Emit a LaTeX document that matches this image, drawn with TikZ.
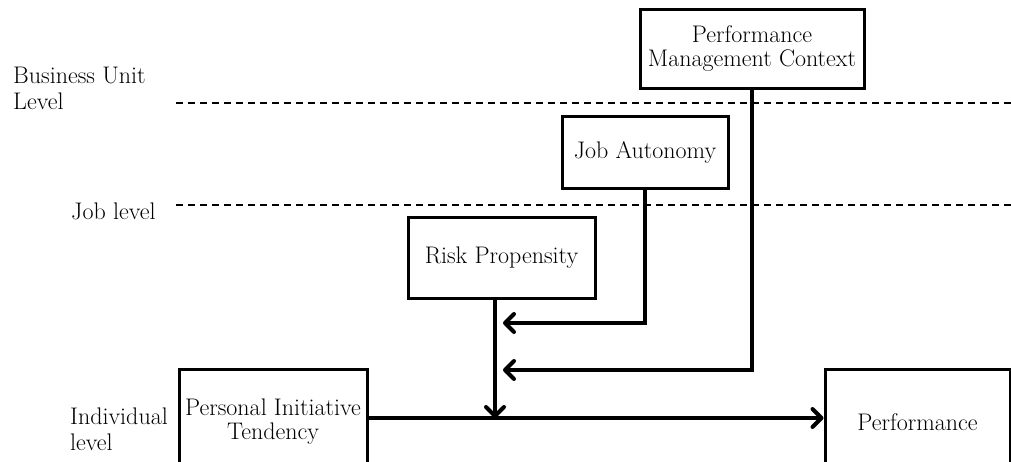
\documentclass[tikz,border=0pt]{standalone}
\usepackage{fontspec}
\usetikzlibrary{arrows.meta}
\begin{document}
\begin{tikzpicture}[x=1pt,y=-1pt,
  box/.style={draw, line width=3pt, inner sep=0pt, align=center,
    font=\fontsize{24}{24}\selectfont},
  lvl/.style={inner sep=0pt, align=left, anchor=base west,
    font=\fontsize{24}{26}\selectfont},
  conn/.style={line width=4pt, -{Straight Barb[length=9pt,width=18pt,round]}},
  levelline/.style={line width=2pt, dash pattern=on 7pt off 5pt}
]
\useasboundingbox (0,0) rectangle (1011,461);
\clip (0,0) rectangle (1011,461);

% level labels
\node[lvl] (bul) at (13,109) {Business Unit\\Level};
\node[lvl] (jl) at (71,219) {Job level};
\node[lvl] (il) at (70,450) {Individual\\level};

% level separators
\coordinate (d1a) at (176,103);
\coordinate (d1b) at (1011,103);
\coordinate (d2a) at (176,205);
\coordinate (d2b) at (1011,205);
\draw[levelline] (d1a) -- (d1b);
\draw[levelline] (d2a) -- (d2b);

% boxes
\node[box, minimum width=224pt, minimum height=79pt] (pmc) at (752,48.5) {Performance\\Management Context};
\node[box, minimum width=166pt, minimum height=72pt] (ja) at (645,152) {Job Autonomy};
\node[box, minimum width=187pt, minimum height=81pt] (rp) at (501.5,257.5) {Risk Propensity};
\node[box, minimum width=188pt, minimum height=106pt] (pi) at (273,422) {Personal Initiative\\Tendency};
\node[box, minimum width=185pt, minimum height=106pt] (perf) at (917.5,422) {Performance};

% connectors
\coordinate (mid) at (495,418);
\coordinate (cja) at (503,323);
\coordinate (cpmc) at (503,370);
\draw[conn] ([xshift=-6.5pt]rp.south) -- (mid);
\draw[conn] (pi.east |- mid) -- (perf.west |- mid);
\draw[conn] (ja.south) |- (cja);
\draw[conn] (pmc.south) |- (cpmc);
\end{tikzpicture}
\end{document}
